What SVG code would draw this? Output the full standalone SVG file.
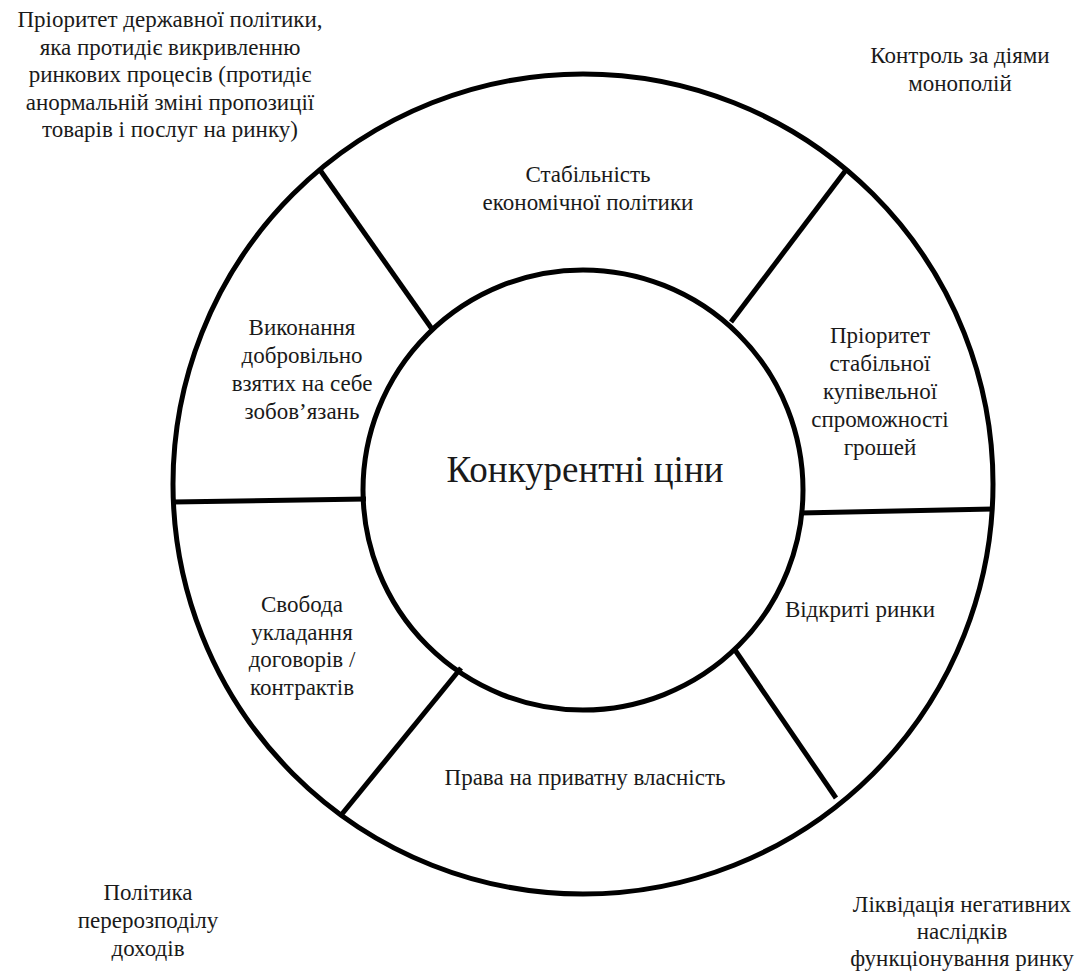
<svg xmlns="http://www.w3.org/2000/svg" width="1085" height="976" viewBox="0 0 1085 976">
<style>
.t{font-family:"Liberation Serif","Times New Roman","DejaVu Serif",serif;font-size:23px;fill:#1a1a1a;text-anchor:middle}
.big{font-size:37px}
.ln{stroke:#000;stroke-width:5;fill:none}
</style>
<rect width="1085" height="976" fill="#fff"/>
<g id="outer-ring"><circle class="ln" cx="583" cy="484" r="410"/></g>
<g id="connectors">
<line class="ln" x1="320" y1="170" x2="432" y2="329"/>
<line class="ln" x1="846" y1="170" x2="731" y2="322"/>
<line class="ln" x1="173" y1="502" x2="366" y2="499"/>
<line class="ln" x1="800" y1="513" x2="993" y2="509"/>
<line class="ln" x1="342" y1="814" x2="461" y2="668"/>
<line class="ln" x1="836" y1="798" x2="735" y2="650"/>
</g>
<g id="center"><circle class="ln" cx="583" cy="490" r="220" fill="#fff"/>
<text class="t big" x="585" y="482">Конкурентні ціни</text></g>
<g id="stab"><text class="t" x="588" y="182">Стабільність</text><text class="t" x="588" y="210">економічної політики</text></g>
<g id="prior-money"><text class="t" x="880" y="343">Пріоритет</text><text class="t" x="880" y="371">стабільної</text><text class="t" x="880" y="399">купівельної</text><text class="t" x="880" y="427">спроможності</text><text class="t" x="880" y="455">грошей</text></g>
<g id="open"><text class="t" x="860" y="617">Відкриті ринки</text></g>
<g id="property"><text class="t" x="585" y="785">Права на приватну власність</text></g>
<g id="freedom"><text class="t" x="302" y="612">Свобода</text><text class="t" x="302" y="640">укладання</text><text class="t" x="302" y="667">договорів /</text><text class="t" x="302" y="695">контрактів</text></g>
<g id="obligations"><text class="t" x="302" y="335">Виконання</text><text class="t" x="302" y="363">добровільно</text><text class="t" x="302" y="391">взятих на себе</text><text class="t" x="302" y="419">зобов’язань</text></g>
<g id="corner-tl"><text class="t" x="170" y="27">Пріоритет державної політики,</text><text class="t" x="170" y="55">яка протидіє викривленню</text><text class="t" x="170" y="82">ринкових процесів (протидіє</text><text class="t" x="170" y="110">анормальній зміні пропозиції</text><text class="t" x="170" y="137">товарів і послуг на ринку)</text></g>
<g id="corner-tr"><text class="t" x="960" y="63">Контроль за діями</text><text class="t" x="960" y="91">монополій</text></g>
<g id="corner-bl"><text class="t" x="148" y="900">Політика</text><text class="t" x="148" y="928">перерозподілу</text><text class="t" x="148" y="956">доходів</text></g>
<g id="corner-br"><text class="t" x="962" y="912">Ліквідація негативних</text><text class="t" x="962" y="939">наслідків</text><text class="t" x="962" y="966">функціонування ринку</text></g>
</svg>
